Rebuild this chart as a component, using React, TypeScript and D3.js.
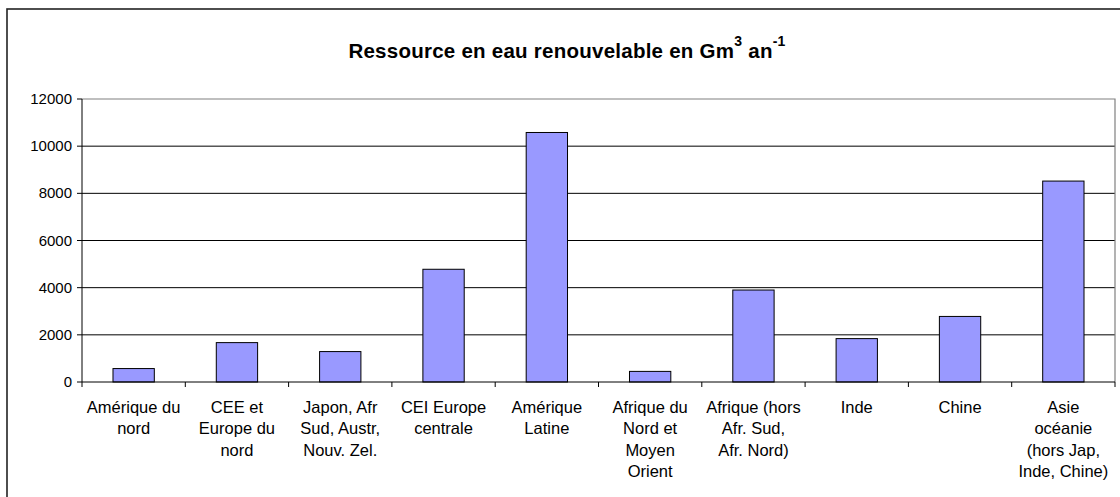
import React from "react";
import * as d3 from "d3";

const categories: string[][] = [
  ["Amérique du", "nord"],
  ["CEE et", "Europe du", "nord"],
  ["Japon, Afr", "Sud, Austr,", "Nouv. Zel."],
  ["CEI Europe", "centrale"],
  ["Amérique", "Latine"],
  ["Afrique du", "Nord et", "Moyen", "Orient"],
  ["Afrique (hors", "Afr. Sud,", "Afr. Nord)"],
  ["Inde"],
  ["Chine"],
  ["Asie", "océanie", "(hors Jap,", "Inde, Chine)"],
];
const values: number[] = [570, 1670, 1290, 4780, 10580, 450, 3900, 1840, 2780, 8520];
const yTicks: number[] = [0, 2000, 4000, 6000, 8000, 10000, 12000];

const W = 1120;
const H = 497;
const left = 82;
const right = 1115;
const top = 99;
const bottom = 382;
const font = "'Liberation Sans', Arial, sans-serif";

export default function App() {
  const keys = categories.map((c) => c.join(" "));
  const x = d3.scaleBand<string>().domain(keys).range([left, right]).padding(0);
  const y = d3.scaleLinear().domain([0, 12000]).range([bottom, top]);
  const step = x.step();
  const bw = step / 2.5;

  return (
    <svg
      width={W}
      height={H}
      style={{ position: "absolute", left: 0, top: 0, background: "#fff" }}
    >
      <rect x={0} y={0} width={W} height={H} fill="#fff" />
      {/* outer chart frame */}
      <rect x={7} y={9} width={W + 20} height={H + 20} fill="none" stroke="#222" strokeWidth={1.6} />

      {/* title */}
      <text x={567} y={58} textAnchor="middle" fontFamily={font} fontWeight="bold" fontSize={20.5} letterSpacing={0.25} fill="#000">
        <tspan>Ressource en eau renouvelable en Gm</tspan>
        <tspan fontSize={14} dy={-12}>3</tspan>
        <tspan dy={12}> an</tspan>
        <tspan fontSize={14} dy={-12}>-1</tspan>
      </text>

      {/* gridlines */}
      {yTicks
        .filter((t) => t > 0 && t < 12000)
        .map((t) => (
          <line key={"g" + t} x1={left} x2={right} y1={y(t)} y2={y(t)} stroke="#000" strokeWidth={1} />
        ))}
      {/* plot border (top/right) */}
      <polyline
        points={`${left},${y(12000)} ${right},${y(12000)} ${right},${y(0)}`}
        fill="none"
        stroke="#808080"
        strokeWidth={1.2}
      />

      {/* bars */}
      {values.map((v, i) => (
        <rect
          key={"b" + i}
          x={(x(keys[i]) as number) + (step - bw) / 2}
          y={y(v)}
          width={bw}
          height={y(0) - y(v)}
          fill="#9999FF"
          stroke="#000"
          strokeWidth={1}
        />
      ))}

      {/* y axis */}
      <line x1={left} x2={left} y1={y(12000)} y2={y(0)} stroke="#000" strokeWidth={1} />
      {yTicks.map((t) => (
        <g key={"yt" + t}>
          <line x1={left - 5} x2={left} y1={y(t)} y2={y(t)} stroke="#000" />
          <text x={left - 10} y={y(t) + 5} textAnchor="end" fontFamily={font} fontSize={15} fill="#000">
            {t}
          </text>
        </g>
      ))}

      {/* x axis */}
      <line x1={left} x2={right} y1={y(0)} y2={y(0)} stroke="#000" strokeWidth={1} />
      {keys.map((k, i) => (
        <line
          key={"xt" + i}
          x1={(x(k) as number)}
          x2={(x(k) as number)}
          y1={y(0)}
          y2={y(0) + 5}
          stroke="#000"
        />
      ))}
      <line x1={right} x2={right} y1={y(0)} y2={y(0) + 5} stroke="#000" />
      {categories.map((lines, i) => (
        <text
          key={"xl" + i}
          x={(x(keys[i]) as number) + step / 2}
          y={413}
          textAnchor="middle"
          fontFamily={font}
          fontSize={16.5}
          fill="#000"
        >
          {lines.map((l, j) => (
            <tspan key={j} x={(x(keys[i]) as number) + step / 2} dy={j === 0 ? 0 : 21.3}>
              {l}
            </tspan>
          ))}
        </text>
      ))}
    </svg>
  );
}
